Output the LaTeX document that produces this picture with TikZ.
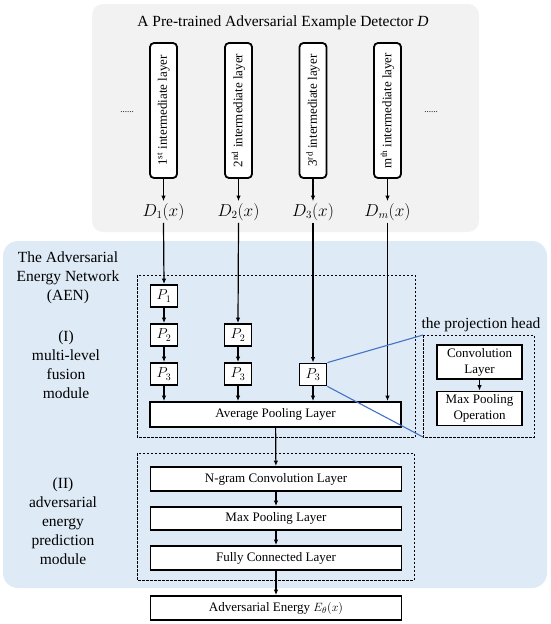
\documentclass[tikz,border=0pt]{standalone}
\usepackage{fontspec}
\setmainfont{Liberation Serif}
\usetikzlibrary{arrows.meta}
\definecolor{graybg}{HTML}{F2F2F2}
\definecolor{bluebg}{HTML}{DEEBF7}
\definecolor{linkblue}{HTML}{4472C4}
\tikzset{
  boxfont/.style={font=\fontsize{13}{15}\selectfont},
  bigfont/.style={font=\fontsize{15.5}{19}\selectfont},
  layerbox/.style={draw, line width=1.8pt, rounded corners=4pt, fill=white, minimum width=27pt, minimum height=135pt, inner sep=0pt},
  pbox/.style={draw, line width=1.8pt, fill=white, minimum width=27pt, minimum height=22pt, inner sep=0pt, font=\fontsize{14}{15}\selectfont},
  widebox/.style={draw, line width=1.8pt, fill=white, minimum width=251pt, minimum height=24pt, inner sep=0pt, boxfont},
  projbox/.style={draw, line width=1.8pt, fill=white, minimum width=85pt, minimum height=34pt, inner sep=0pt, align=center, font=\fontsize{13}{16}\selectfont},
  dashbox/.style={draw, dashed, line width=0.7pt, dash pattern=on 2.5pt off 1.5pt},
  arr/.style={-{Latex[length=5.5pt,width=4.5pt]}, line width=1.2pt},
  blueline/.style={draw=linkblue, line width=1.1pt},
  dlabel/.style={font=\fontsize{16}{18}\selectfont, inner sep=2pt}
}
\begin{document}
\begin{tikzpicture}[x=1pt,y=-1pt]
\useasboundingbox (0,0) rectangle (550,624);
% backgrounds
\fill[graybg, rounded corners=11pt] (92,4) rectangle (479,232);
\fill[bluebg, rounded corners=15pt] (3,241) rectangle (547,588);

% title
\node[bigfont] (title) at (283,23) {A Pre-trained Adversarial Example Detector \textit{D}};

% intermediate layers
\node[layerbox] (L1) at (163.5,110.5) {\rotatebox{90}{\fontsize{13}{15}\selectfont 1\textsuperscript{st} intermediate layer}};
\node[layerbox] (L2) at (238.5,110.5) {\rotatebox{90}{\fontsize{13}{15}\selectfont 2\textsuperscript{nd} intermediate layer}};
\node[layerbox] (L3) at (313,110.5) {\rotatebox{90}{\fontsize{13}{15}\selectfont 3\textsuperscript{rd} intermediate layer}};
\node[layerbox] (Lm) at (387.5,110.5) {\rotatebox{90}{\fontsize{13}{15}\selectfont m\textsuperscript{th} intermediate layer}};
\node[font=\fontsize{9}{10}\selectfont] (dotsL) at (127,112) {......};
\node[font=\fontsize{9}{10}\selectfont] (dotsR) at (431,112) {......};

% D outputs
\node[dlabel] (D1) at (163.5,212) {$D_1(x)$};
\node[dlabel] (D2) at (238.5,212) {$D_2(x)$};
\node[dlabel] (D3) at (313,212) {$D_3(x)$};
\node[dlabel] (Dm) at (387.5,212) {$D_m(x)$};
\draw[arr] (L1.south) -- (D1.north);
\draw[arr] (L2.south) -- (D2.north);
\draw[arr] (L3.south) -- (D3.north);
\draw[arr] (Lm.south) -- (Dm.north);

% left labels
\node[bigfont, align=center] (aen) at (68,278) {The Adversarial\\Energy Network\\(AEN)};
\node[bigfont, align=center] (mod1) at (66,365) {(I)\\multi-level\\fusion\\module};
\node[bigfont, align=center] (mod2) at (63,521) {(II)\\adversarial\\energy\\prediction\\module};

% fusion module
\draw[dashbox] (137,275) rectangle (415,437);
\node[pbox] (P11) at (164,296) {$P_1$};
\node[pbox] (P12) at (164,335) {$P_2$};
\node[pbox] (P13) at (164,374) {$P_3$};
\node[pbox] (P22) at (238,335) {$P_2$};
\node[pbox] (P23) at (238,374) {$P_3$};
\node[pbox] (P33) at (313,374.5) {$P_3$};
\node[widebox, minimum height=25pt] (avg) at (275.5,414.5) {Average Pooling Layer};

\draw[arr] (D1.south) -- (P11.north);
\draw[arr] (D2.south) -- (P22.north);
\draw[arr] (D3.south) -- (P33.north);
\draw[arr] (Dm.south) -- (Dm.south |- avg.north);
\draw[arr] (P11) -- (P12);
\draw[arr] (P12) -- (P13);
\draw[arr] (P22) -- (P23);
\draw[arr] (P13.south) -- (P13.south |- avg.north);
\draw[arr] (P23.south) -- (P23.south |- avg.north);
\draw[arr] (P33.south) -- (P33.south |- avg.north);

% projection head
\draw[dashbox] (423,335) rectangle (534,437);
\coordinate (projNW) at (423,335);
\coordinate (projSW) at (423,437);
\node[bigfont] (projlabel) at (481,325) {the projection head};
\node[projbox] (conv) at (479.5,362) {Convolution\\Layer};
\node[projbox] (mpo) at (479.5,408.5) {Max Pooling\\Operation};
\draw[arr] (conv) -- (mpo);
\draw[blueline] (P33.north east) -- (projNW);
\draw[blueline] (P33.south east) -- (projSW);

% prediction module
\draw[dashbox] (137,453) rectangle (414,580);
\node[widebox] (ngram) at (276,479) {N-gram Convolution Layer};
\node[widebox, minimum height=23pt] (maxp) at (276,518.5) {Max Pooling Layer};
\node[widebox] (fc) at (276,558) {Fully Connected Layer};
\node[widebox] (energy) at (276,608) {Adversarial Energy $E_\theta(x)$};
\draw[arr] (avg) -- (ngram);
\draw[arr] (ngram) -- (maxp);
\draw[arr] (maxp) -- (fc);
\draw[arr] (fc) -- (energy);
\end{tikzpicture}
\end{document}
